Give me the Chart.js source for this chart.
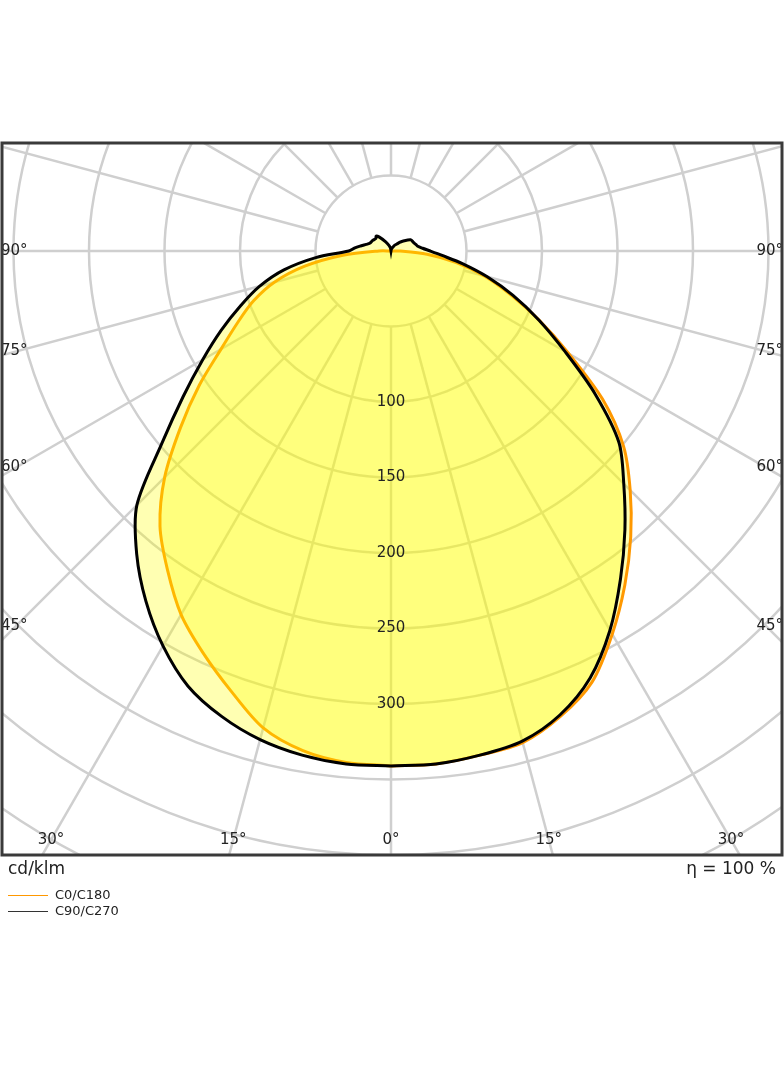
<!DOCTYPE html>
<html><head><meta charset="utf-8">
<script src="https://cdn.jsdelivr.net/npm/chart.js@4.4.0/dist/chart.umd.min.js"></script>
<style>
body{margin:0;background:#fff;font-family:"DejaVu Sans",sans-serif;}
#wrap{position:relative;width:784px;height:1066px;}
.t{position:absolute;color:#222;white-space:nowrap;}
</style></head><body>
<div id="wrap"><canvas id="c" width="784" height="1066"></canvas>
<div class="t" style="left:8px;top:858px;font-size:17px">cd/klm</div>
<div class="t" style="right:8px;top:858px;font-size:17px">η = 100 %</div>
<div style="position:absolute;left:8px;top:895px;width:40px;height:1px;background:#ff9800"></div>
<div class="t" style="left:55px;top:887px;font-size:13px">C0/C180</div>
<div style="position:absolute;left:8px;top:911px;width:40px;height:1px;background:#333"></div>
<div class="t" style="left:55px;top:903px;font-size:13px">C90/C270</div>
</div>
<script>
// angles (deg from nadir) and intensities (cd/klm)
const angles = [0,5,10,15,20,25,30,35,40,45,50,55,60,65,70,75,80,85,90,95,100,105,110,120,130,135,140,150,160,170,180];
const c0Right   = [341,341,339,337,328,315,293,270,247,224,201,171,136,108,84,64,44,24,6,0,0,0,0,0,0,0,0,0,0,0,0];
const c180Left  = [341,340,336,327,310,294,278,258,238,212,182,155,130,112,97,80,58,32,8,0,0,0,0,0,0,0,0,0,0,0,0];
const c90Right  = [341,341,339,336,327,312,290,265,241,218,197,165,133,108,86,66,48,34,26,21,18,17,16,15,10,8,6,4,2,1,0];
const c270Left  = [341,341,339,335,328,318,302,283,262,238,198,168,144,124,106,90,72,50,28,24,20,17,15,14,13,14,12,7,4,2,0];
const ringValues = [50,100,150,200,250,300,350,400,450,500];
const ringLabels = [100,150,200,250,300];
const spokeStep = 15;
const sideLabels = [90,75,60,45];
const bottomLabels = [-30,-15,0,15,30];

function shape(right,left){
  const pts=[];
  for(let i=0;i<angles.length;i++){const a=angles[i]*Math.PI/180;pts.push({x:right[i]*Math.sin(a),y:-right[i]*Math.cos(a)});}
  for(let i=angles.length-1;i>=0;i--){const a=angles[i]*Math.PI/180;pts.push({x:-left[i]*Math.sin(a),y:-left[i]*Math.cos(a)});}
  return pts;
}
const K=1.51;
const grid={id:'grid',
 beforeDatasetsDraw(ch){
  const {ctx,chartArea:ca,scales:{x,y}}=ch;
  const cx=x.getPixelForValue(0),cy=y.getPixelForValue(0),k=x.getPixelForValue(1)-cx;
  ctx.save();ctx.beginPath();ctx.rect(ca.left,ca.top,ca.right-ca.left,ca.bottom-ca.top);ctx.clip();
  ctx.strokeStyle='#cfcfcf';ctx.lineWidth=2.5;
  ringValues.forEach(r=>{ctx.beginPath();ctx.arc(cx,cy,r*k,0,2*Math.PI);ctx.stroke();});
  for(let a=0;a<360;a+=spokeStep){const t=a*Math.PI/180;ctx.beginPath();
   ctx.moveTo(cx+50*k*Math.sin(t),cy+50*k*Math.cos(t));ctx.lineTo(cx+800*k*Math.sin(t),cy+800*k*Math.cos(t));ctx.stroke();}
  ctx.restore();
 },
 afterDatasetsDraw(ch){
  const {ctx,chartArea:ca,scales:{x,y}}=ch;
  const cx=x.getPixelForValue(0),cy=y.getPixelForValue(0),k=x.getPixelForValue(1)-cx;
  ctx.save();ctx.fillStyle='#222';ctx.font='15px "DejaVu Sans"';ctx.textAlign='center';ctx.textBaseline='middle';
  ringLabels.forEach(r=>ctx.fillText(String(r),cx,cy+r*k));
  sideLabels.forEach(a=>{const t=a*Math.PI/180;const dx=(ca.right-ca.left)/2-15;const yy=cy+dx/Math.tan(t);
   ctx.textAlign='left';ctx.fillText(a+'°',ca.left-1,yy);ctx.textAlign='right';ctx.fillText(a+'°',ca.right+1,yy);});
  ctx.textAlign='center';
  bottomLabels.forEach(a=>{const t=a*Math.PI/180;const dy=ca.bottom-15-cy;ctx.fillText(Math.abs(a)+'°',cx+dy*Math.tan(t),ca.bottom-15);});
  ctx.strokeStyle='#3a3a3a';ctx.lineWidth=3;ctx.strokeRect(ca.left,ca.top,ca.right-ca.left,ca.bottom-ca.top);
  ctx.restore();
 }};
new Chart(document.getElementById('c'),{
 type:'scatter',
 data:{datasets:[
  {label:'C90/C270',data:shape(c90Right,c270Left),showLine:true,borderColor:'#000',borderWidth:3,backgroundColor:'rgba(255,255,0,0.3)',fill:'shape',pointRadius:0,tension:0.3,order:0},
  {label:'C0/C180',data:shape(c0Right,c180Left),showLine:true,borderColor:'#ff9800',borderWidth:3,backgroundColor:'rgba(255,255,0,0.3)',fill:'shape',pointRadius:0,tension:0.3,order:1}
 ]},
 options:{responsive:false,animation:false,
  layout:{padding:{left:2,right:2,top:143,bottom:211}},
  plugins:{legend:{display:false},tooltip:{enabled:false}},
  scales:{x:{type:'linear',display:false,min:-389/K,max:391/K},
          y:{type:'linear',display:false,min:-604/K,max:108/K}}},
 plugins:[grid]
});
</script></body></html>
